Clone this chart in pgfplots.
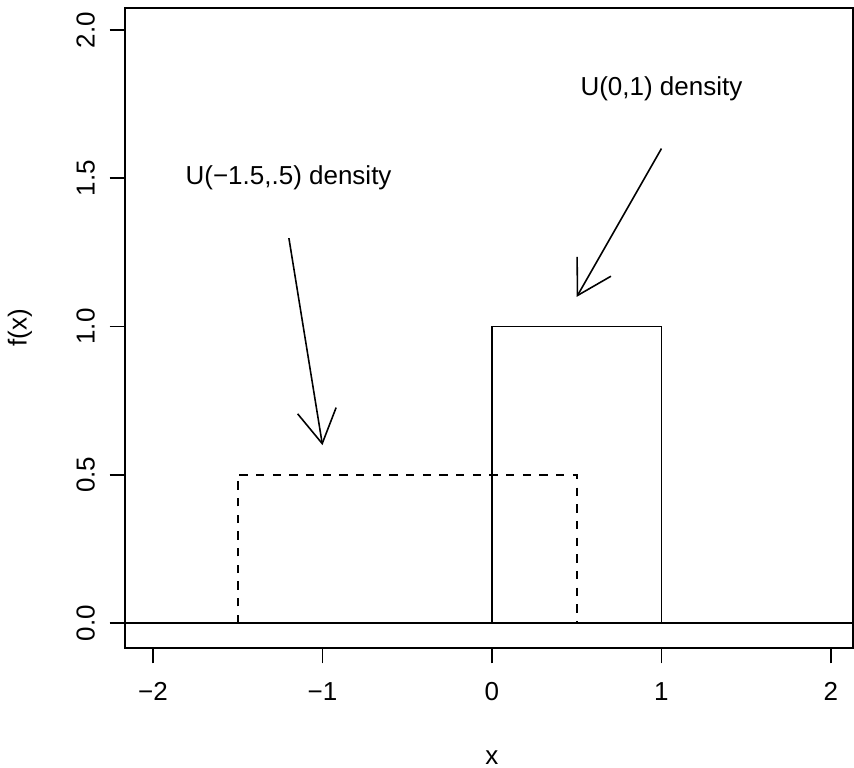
\documentclass[border=0pt]{standalone}
\usepackage{pgfplots}
\pgfplotsset{compat=1.18}
\usepackage{fontspec}
\setmainfont{Liberation Sans}
\usetikzlibrary{arrows.meta}
\begin{document}
\begin{tikzpicture}[x=1pt,y=1pt]
\useasboundingbox (-75pt,-72pt) rectangle (437.4pt,388.8pt);
\begin{axis}[
  scale only axis,
  width=436.8pt, height=384pt,
  at={(0,0)}, anchor=south west,
  xmin=-2.165, xmax=2.13,
  ymin=-0.084, ymax=2.074,
  axis line style={line width=0.95pt},
  tick style={line width=0.95pt, black},
  tick pos=left,
  tick align=outside,
  major tick length=9.2pt,
  xtick={-2,-1,0,1,2},
  xticklabels={−2,−1,0,1,2},
  ytick={0,0.5,1,1.5,2},
  yticklabels={0.0,0.5,1.0,1.5,2.0},
  ticklabel style={font=\fontsize{15.6}{18}\selectfont},
  xticklabel style={yshift=-7.8pt},
  yticklabel style={rotate=90, anchor=south, yshift=5.4pt},
  clip=false,
]
\addplot[black, line width=0.95pt] coordinates {(-2.165,0) (2.13,0)};
\addplot[black, line width=0.95pt] coordinates {(0,0) (0,1) (1,1) (1,0)};
\addplot[black, line width=0.95pt, dash pattern=on 5pt off 5pt] coordinates {(-1.5,0) (-1.5,0.5) (0.5,0.5) (0.5,0)};
\draw[line width=0.95pt, -{Straight Barb[length=20pt, width=23.4pt]}] (axis cs:-1.198,1.298) -- (axis cs:-1,0.6);
\draw[line width=0.95pt, -{Straight Barb[length=20pt, width=23.4pt]}] (axis cs:1,1.6) -- (axis cs:0.5,1.1);
\node[font=\fontsize{15.6}{18}\selectfont] at (axis cs:-1.2,1.5) {U(−1.5,.5) density};
\node[font=\fontsize{15.6}{18}\selectfont] at (axis cs:1,1.8) {U(0,1) density};
\node[font=\fontsize{15.6}{18}\selectfont] at ([yshift=-66pt]axis cs:0,-0.084) {x};
\node[font=\fontsize{15.6}{18}\selectfont, rotate=90] at ([xshift=-63pt]axis cs:-2.165,0.995) {f(x)};
\end{axis}
\end{tikzpicture}
\end{document}
